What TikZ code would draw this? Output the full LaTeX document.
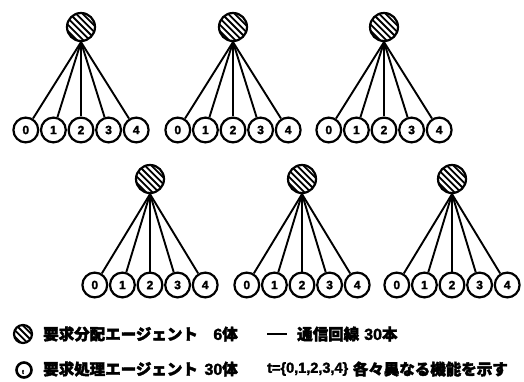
\documentclass[tikz,border=0pt]{standalone}
\usepackage{fontspec}
\newfontfamily\cjk{Noto Sans CJK JP}[FakeBold=2.5]
\newfontfamily\numfont{Liberation Sans}[FakeBold=2]
\newcommand{\dg}[1]{{\numfont\bfseries\fontsize{16}{16}\selectfont #1}}
\newcommand{\dgs}[1]{{\numfont\bfseries\fontsize{14.5}{16}\selectfont #1}}
\begin{document}
\begin{tikzpicture}[x=1pt,y=-1pt,
  hatched/.style={circle,draw,line width=2.2pt,inner sep=0pt,minimum size=#1,
    path picture={
      \foreach \k in {-15,-11.8,...,15}
        \draw[line width=1.8pt]
          ([shift={(\k,-\k)}]path picture bounding box.center) ++(-25,-25) -- ++(50,50);
    }},
  hatched/.default=28pt,
  leaf/.style={circle,draw,line width=2.2pt,inner sep=0pt,minimum size=24.8pt,
    font=\numfont\bfseries\fontsize{12}{12}\selectfont},
  link/.style={line width=1.9pt},
  legtext/.style={inner sep=0pt,font=\cjk\bfseries\fontsize{15.5}{16}\selectfont}]
\useasboundingbox (0,0) rectangle (524,382);

% six request-distribution agents, each with five processing agents
\foreach \g/\cx/\hy/\ly in {1/81/27/130, 2/233/27/130, 3/384/27/130,
                            4/150/179/285, 5/302/179/285, 6/452/179/285} {
  \node[hatched] (h\g) at (\cx,\hy) {};
  \foreach \t in {0,...,4} {
    \node[leaf] (l\g-\t) at ({\cx+(\t-2)*27.6},\ly) {\t};
    \draw[link] (h\g.south) -- (l\g-\t);
  }
}

% legend
\node[hatched=18pt] (k1) at (23,334) {};
\node[legtext,anchor=west] (t1) at (43,334) {要求分配エージェント};
\node[legtext,anchor=east] (t1n) at (238,334) {\dg{6}体};
\coordinate (ls) at (267,334);
\coordinate (le) at (287,334);
\draw[line width=2.4pt] (ls) -- (le);
\node[legtext,anchor=west] (t2) at (297,334) {通信回線};
\node[legtext,anchor=west] (t2n) at (364,334) {\dg{30}本};

\node[circle,draw,line width=2.6pt,inner sep=0pt,minimum size=15pt] (k2) at (24,370) {};
\node[inner sep=0pt,font=\numfont\bfseries\fontsize{6}{6}\selectfont] (k2t) at (23,372) {t};
\node[legtext,anchor=west] (t3) at (43,369) {要求処理エージェント};
\node[legtext,anchor=east] (t3n) at (238,369) {\dg{30}体};
\node[legtext,anchor=west] (t4) at (267,369) {\dgs{t=\{0,1,2,3,4\}}};
\node[legtext,anchor=east] (t4b) at (508,369) {各々異なる機能を示す};
\end{tikzpicture}
\end{document}
